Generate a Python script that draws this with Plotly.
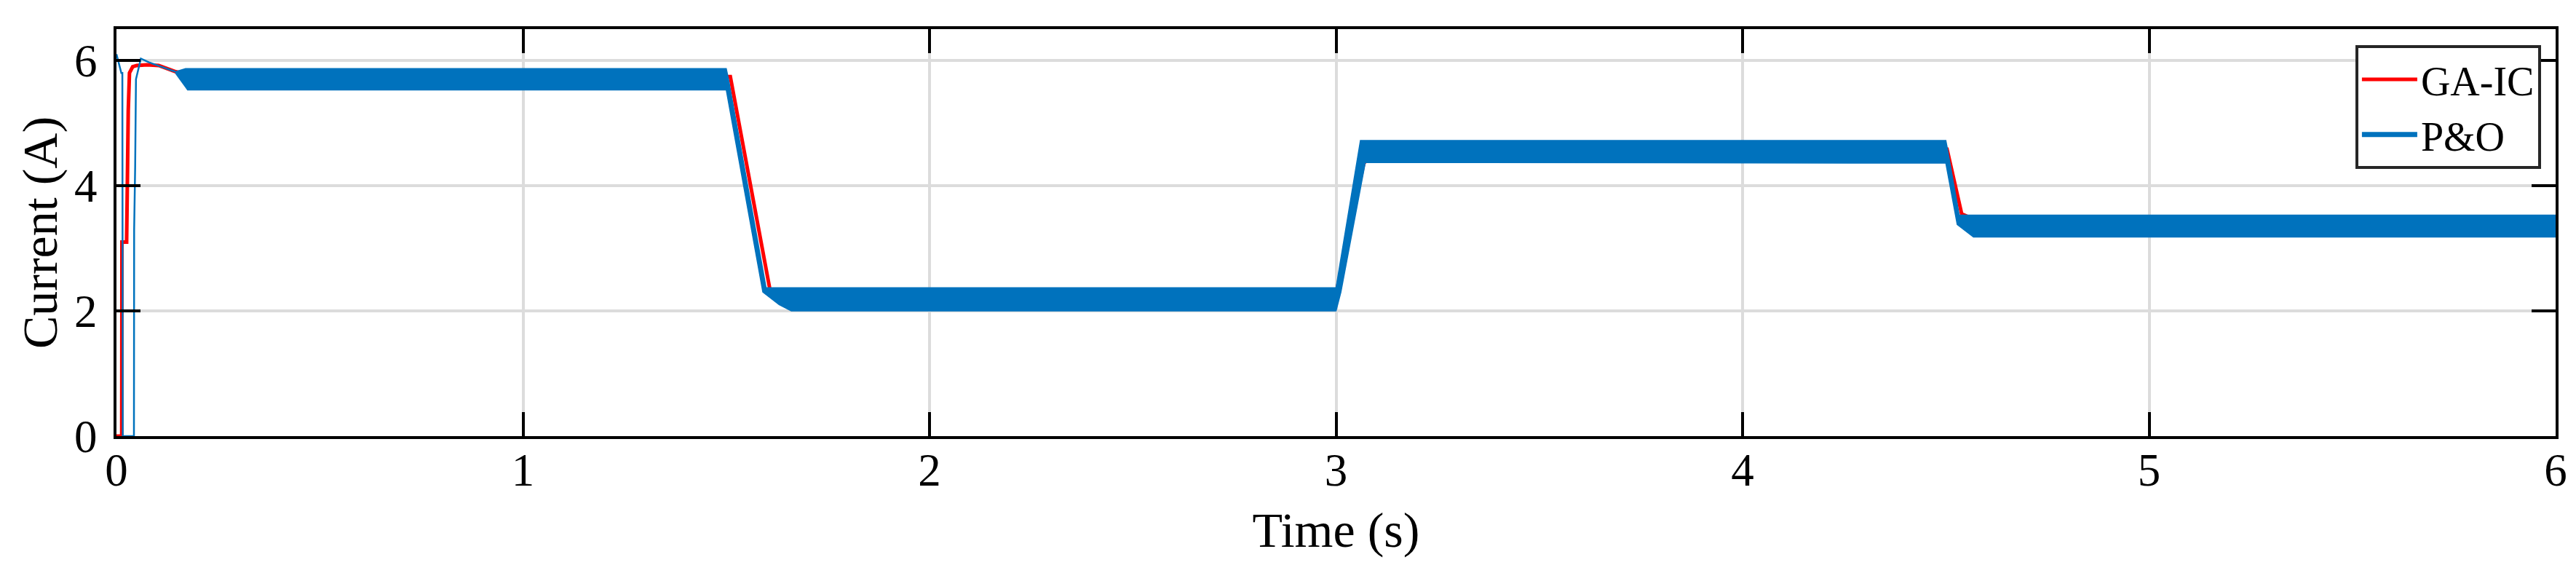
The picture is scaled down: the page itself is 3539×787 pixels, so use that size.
import plotly.graph_objects as go

# ---------------- data ----------------
# GA-IC current trace (time s, current A)
ga_t = [0.000, 0.013, 0.0135, 0.025, 0.029, 0.032, 0.040, 0.050, 0.075, 0.104, 0.146, 0.190,
        1.510, 1.608, 1.640, 3.000, 3.068, 3.090, 3.150, 4.503, 4.539, 4.570, 6.000]
ga_i = [0.00, 0.00, 3.10, 3.10, 5.20, 5.80, 5.90, 5.92, 5.93, 5.92, 5.82, 5.75,
        5.74, 2.32, 2.27, 2.27, 4.35, 4.55, 4.60, 4.58, 3.55, 3.46, 3.46]

# P&O start-up transient (thin line before the ripple band starts)
po_start_t = [0.000, 0.012, 0.0145, 0.0155, 0.043, 0.0435, 0.046, 0.048, 0.060, 0.080, 0.110, 0.145]
po_start_i = [6.10, 5.80, 5.80, 0.00, 0.00, 3.30, 4.30, 5.70, 6.03, 5.97, 5.90, 5.82]

# P&O ripple band: upper and lower envelopes of the oscillation
po_up_t = [0.145, 0.170, 1.500, 1.505, 1.598, 3.000, 3.060, 4.500, 4.503, 4.533, 6.000]
po_up_i = [5.82, 5.87, 5.87, 5.72, 2.37, 2.37, 4.72, 4.72, 4.62, 3.53, 3.53]
po_lo_t = [0.145, 0.175, 1.500, 1.590, 1.630, 1.660, 3.000, 3.012, 3.072, 4.500, 4.528, 4.568, 6.000]
po_lo_i = [5.80, 5.53, 5.53, 2.30, 2.10, 2.00, 2.00, 2.30, 4.37, 4.36, 3.38, 3.18, 3.18]

x_ticks = [0, 1, 2, 3, 4, 5, 6]
y_ticks = [0, 2, 4, 6]

RED = "#FF0000"
BLUE = "#0072BD"
FONT = "Liberation Serif"

fig = go.Figure()

fig.add_trace(go.Scatter(x=ga_t, y=ga_i, mode="lines", name="GA-IC",
                         line=dict(color=RED, width=5), showlegend=True))

band_x = po_up_t + po_lo_t[::-1]
band_y = po_up_i + po_lo_i[::-1]
fig.add_trace(go.Scatter(x=band_x, y=band_y, mode="lines", fill="toself",
                         fillcolor=BLUE, line=dict(color=BLUE, width=1.5),
                         showlegend=False, hoverinfo="skip"))
fig.add_trace(go.Scatter(x=po_start_t, y=po_start_i, mode="lines",
                         line=dict(color=BLUE, width=2.5), showlegend=False))
# legend entry for P&O
fig.add_trace(go.Scatter(x=[None], y=[None], mode="lines", name="P&O",
                         line=dict(color=BLUE, width=7)))

axis_common = dict(
    showline=True, linecolor="black", linewidth=4, mirror="allticks",
    ticks="inside", ticklen=33, tickwidth=4, tickcolor="black",
    showgrid=True, gridcolor="#DCDCDC", gridwidth=3.5,
    zeroline=False,
    tickfont=dict(family=FONT, size=63, color="black"),
)

fig.update_xaxes(range=[0, 6], tickvals=x_ticks, ticktext=[str(v) for v in x_ticks],
                 title=dict(text="Time (s)", font=dict(family=FONT, size=68, color="black"),
                            standoff=25),
                 ticklabelstandoff=-12, **axis_common)
fig.update_yaxes(range=[0, 6.5], tickvals=y_ticks, ticktext=[str(v) for v in y_ticks],
                 title=dict(text="Current (A)", font=dict(family=FONT, size=68, color="black"),
                            standoff=2),
                 ticklabelstandoff=10, **axis_common)

fig.update_layout(
    width=3539, height=787,
    margin=dict(l=152, r=36, t=32, b=196),
    paper_bgcolor="white", plot_bgcolor="white",
    font=dict(family=FONT, size=56, color="black"),
    legend=dict(x=0.994, y=0.9605, xanchor="right", yanchor="top",
                bgcolor="white", bordercolor="#262626", borderwidth=4,
                font=dict(family=FONT, size=56, color="black"),
                itemwidth=76, tracegroupgap=0),
    showlegend=True,
)

fig.write_html("out.html")
